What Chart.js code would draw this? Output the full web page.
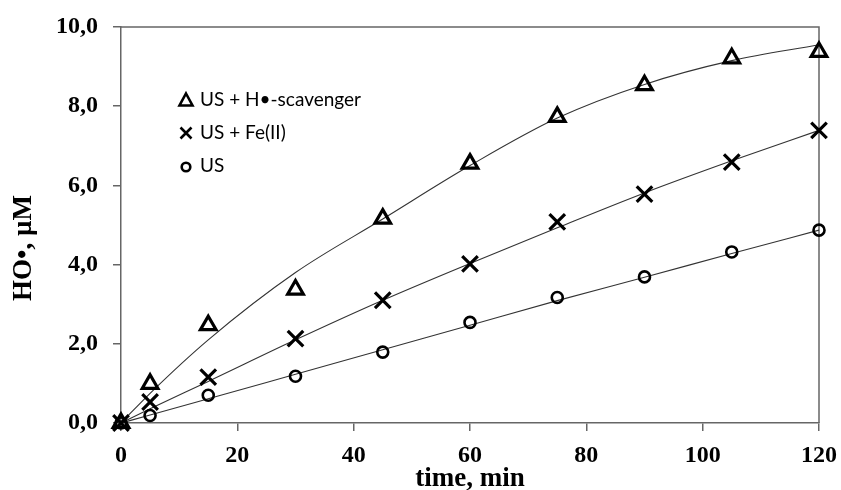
<!DOCTYPE html>
<html>
<head>
<meta charset="utf-8">
<title>HO radical yield</title>
<script src="https://cdn.jsdelivr.net/npm/chart.js@4.4.1/dist/chart.umd.min.js"></script>
<style>
  body { margin: 0; background: #fff; }
  #wrap { width: 841px; height: 490px; }
</style>
</head>
<body>
<div id="wrap"><canvas id="myChart" width="841" height="490"></canvas></div>
<script>
// sampling times, min
var times = [0, 5, 15, 30, 45, 60, 75, 90, 105, 120];

// measured HO• concentration, µM
var scavenger = [0, 0.99, 2.47, 3.37, 5.16, 6.55, 7.73, 8.53, 9.21, 9.37];
var feII = [0, 0.53, 1.16, 2.13, 3.10, 4.02, 5.08, 5.78, 6.59, 7.39];
var usOnly = [0, 0.19, 0.70, 1.18, 1.79, 2.54, 3.17, 3.69, 4.32, 4.87];

// fitted trend curves at the same times
var scavengerFit = [0, 0.75, 2.10, 3.80, 5.15, 6.50, 7.70, 8.55, 9.15, 9.55];
var feIIFit = [0, 0.36, 1.05, 2.10, 3.10, 4.03, 4.93, 5.81, 6.62, 7.39];
var usFit = [0, 0.20, 0.61, 1.23, 1.85, 2.47, 3.09, 3.68, 4.28, 4.87];

var seriesNames = ['US + H\u2022-scavenger', 'US + Fe(II)', 'US'];
var yTicks = [0, 2, 4, 6, 8, 10];
var xTicks = [0, 20, 40, 60, 80, 100, 120];

function pts(ys) {
  return times.map(function (t, i) { return { x: t, y: ys[i] }; });
}

var serif = '"Liberation Serif", "Times New Roman", serif';
var axisGray = '#666666';

function fitLine(ys) {
  return {
    data: pts(ys), showLine: true, pointRadius: 0, borderColor: '#333333',
    borderWidth: 1.1, cubicInterpolationMode: 'monotone', clip: false, order: 2
  };
}
function markers(ys, style, r, w) {
  return {
    data: pts(ys), showLine: false, pointStyle: style, pointRadius: r,
    pointBorderWidth: w, pointBorderColor: '#000', pointBackgroundColor: 'rgba(255,255,255,0)',
    clip: false, order: 1
  };
}

// box around the plot area (top and right edges)
var frame = {
  id: 'frame',
  beforeDatasetsDraw: function (chart) {
    var a = chart.chartArea, ctx = chart.ctx;
    ctx.save();
    ctx.strokeStyle = axisGray;
    ctx.lineWidth = 1.5;
    ctx.beginPath();
    ctx.moveTo(a.left, a.top);
    ctx.lineTo(a.right, a.top);
    ctx.lineTo(a.right, a.bottom);
    ctx.stroke();
    ctx.restore();
  }
};

// axis titles, placed by hand to sit where the original has them
var titles = {
  id: 'titles',
  afterDraw: function (chart) {
    var ctx = chart.ctx, a = chart.chartArea;
    ctx.save();
    ctx.fillStyle = '#000';
    ctx.font = 'bold 27px ' + serif;
    ctx.textAlign = 'center';
    ctx.textBaseline = 'alphabetic';
    ctx.fillText('time, min', (a.left + a.right) / 2, 486);
    ctx.translate(24, 248);
    ctx.rotate(-Math.PI / 2);
    ctx.textBaseline = 'middle';
    ctx.fillText('HO\u2022, \u00B5M', 0, 0);
    ctx.restore();
  }
};

// legend inside the plot, symbols drawn by hand
var keyBox = {
  id: 'keyBox',
  afterDraw: function (chart) {
    var ctx = chart.ctx;
    var sx = 186, tx = 200, rows = [100, 133, 166];
    ctx.save();
    ctx.strokeStyle = '#000';
    ctx.fillStyle = '#000';
    ctx.lineWidth = 2.6;
    ctx.lineJoin = 'miter';
    // triangle
    ctx.beginPath();
    ctx.moveTo(sx, rows[0] - 6.5);
    ctx.lineTo(sx + 6.5, rows[0] + 5.5);
    ctx.lineTo(sx - 6.5, rows[0] + 5.5);
    ctx.closePath();
    ctx.stroke();
    // cross
    ctx.beginPath();
    ctx.moveTo(sx - 5.5, rows[1] - 5.5); ctx.lineTo(sx + 5.5, rows[1] + 5.5);
    ctx.moveTo(sx + 5.5, rows[1] - 5.5); ctx.lineTo(sx - 5.5, rows[1] + 5.5);
    ctx.stroke();
    // circle
    ctx.beginPath();
    ctx.arc(sx, rows[2] + 1, 4.3, 0, Math.PI * 2);
    ctx.stroke();
    ctx.font = '19px Lato, "Noto Sans", sans-serif';
    ctx.textBaseline = 'middle';
    ctx.textAlign = 'left';
    for (var i = 0; i < 3; i++) ctx.fillText(seriesNames[i], tx, rows[i]);
    ctx.restore();
  }
};

var chart = new Chart(document.getElementById('myChart').getContext('2d'), {
  type: 'scatter',
  data: {
    datasets: [
      fitLine(scavengerFit), fitLine(feIIFit), fitLine(usFit),
      markers(scavenger, 'triangle', 9, 3.2),
      markers(feII, 'crossRot', 11, 3.2),
      markers(usOnly, 'circle', 5.5, 2.6)
    ]
  },
  options: {
    responsive: false,
    animation: false,
    layout: { padding: { top: 27, right: 22, left: 0, bottom: 0 } },
    plugins: { legend: { display: false }, tooltip: { enabled: false } },
    scales: {
      x: {
        type: 'linear', min: 0, max: 120,
        afterFit: function (s) { s.height = 67; s.paddingLeft = 0; s.paddingRight = 0; },
        afterBuildTicks: function (s) { s.ticks = xTicks.map(function (v) { return { value: v }; }); },
        grid: { drawOnChartArea: false, drawTicks: true, tickLength: 8, color: axisGray, lineWidth: 1.5 },
        border: { display: true, color: axisGray, width: 1.5 },
        ticks: { color: '#000', padding: 10, maxRotation: 0, font: { family: serif, size: 24, weight: 'bold' } },
        title: { display: false }
      },
      y: {
        type: 'linear', min: 0, max: 10,
        afterFit: function (s) { s.width = 121; s.paddingTop = 0; s.paddingBottom = 0; },
        afterBuildTicks: function (s) { s.ticks = yTicks.map(function (v) { return { value: v }; }); },
        grid: { drawOnChartArea: false, drawTicks: true, tickLength: 8, color: axisGray, lineWidth: 1.5 },
        border: { display: true, color: axisGray, width: 1.5 },
        ticks: {
          color: '#000', padding: 15, font: { family: serif, size: 24, weight: 'bold' },
          callback: function (v) { return v.toFixed(1).replace('.', ','); }
        },
        title: { display: false }
      }
    }
  },
  plugins: [frame, titles, keyBox]
});
</script>
</body>
</html>
